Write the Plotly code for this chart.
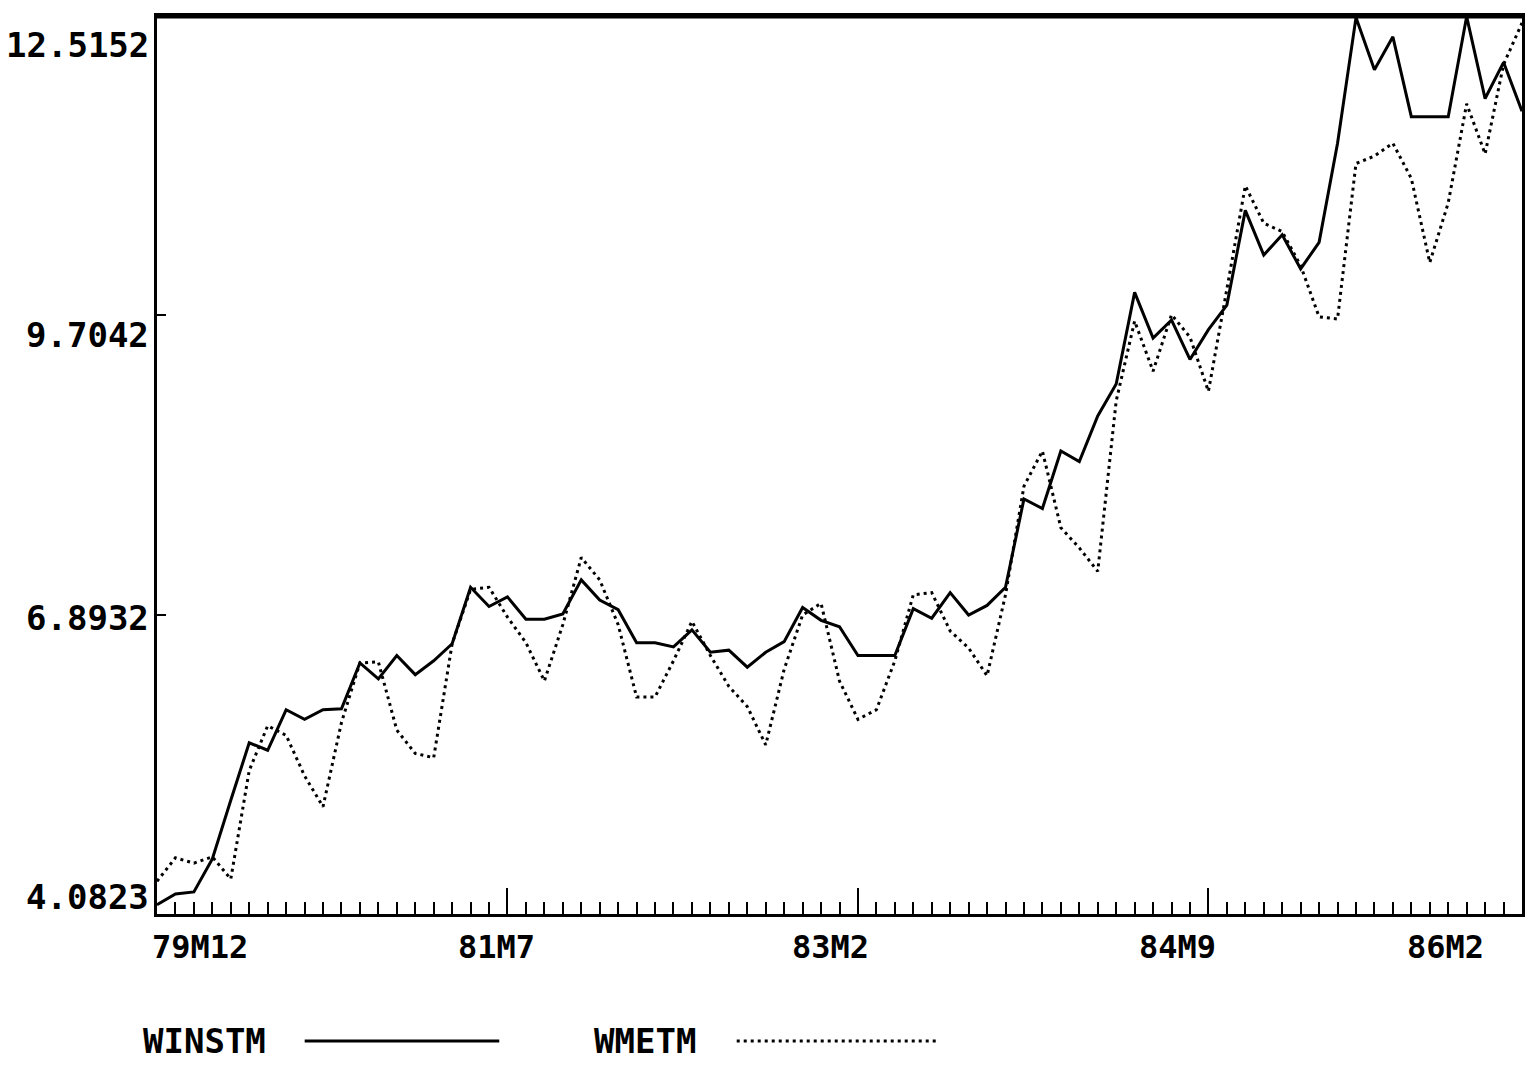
import plotly.graph_objects as go

# ---------------- data ----------------
# monthly observations, 79M12 .. 86M2 (75 months)
months = []
yy, mm = 79, 12
for _ in range(75):
    months.append(f"{yy}M{mm}")
    mm += 1
    if mm > 12:
        mm = 1
        yy += 1
month_index = list(range(len(months)))

winstm = [4.17, 4.27, 4.29, 4.60, 5.15, 5.69, 5.62, 6.00, 5.91, 6.00,
          6.01, 6.44, 6.29, 6.51, 6.33, 6.46, 6.62, 7.15, 6.97, 7.06,
          6.85, 6.85, 6.90, 7.22, 7.03, 6.94, 6.63, 6.63, 6.59, 6.75,
          6.54, 6.56, 6.40, 6.54, 6.64, 6.96, 6.84, 6.78, 6.51, 6.51,
          6.51, 6.95, 6.86, 7.10, 6.89, 6.98, 7.15, 7.98, 7.89, 8.43,
          8.33, 8.76, 9.06, 9.92, 9.49, 9.66, 9.29, 9.57, 9.80, 10.69,
          10.27, 10.46, 10.14, 10.39, 11.32, 12.50, 12.01, 12.32, 11.57, 11.57,
          11.57, 12.51, 11.74, 12.08, 11.62]

wmetm = [4.39, 4.61, 4.56, 4.62, 4.41, 5.43, 5.85, 5.76, 5.38, 5.09,
         5.88, 6.44, 6.45, 5.81, 5.59, 5.55, 6.62, 7.13, 7.15, 6.87,
         6.63, 6.27, 6.80, 7.43, 7.22, 6.80, 6.12, 6.12, 6.46, 6.83,
         6.51, 6.22, 6.03, 5.67, 6.38, 6.89, 7.00, 6.27, 5.91, 6.00,
         6.46, 7.08, 7.10, 6.74, 6.58, 6.32, 7.08, 8.10, 8.43, 7.71,
         7.52, 7.30, 8.90, 9.65, 9.18, 9.71, 9.50, 8.99, 9.95, 10.92,
         10.57, 10.49, 10.17, 9.69, 9.67, 11.13, 11.20, 11.32, 10.99, 10.20,
         10.76, 11.69, 11.22, 12.06, 12.45]

series_names = ["WINSTM", "WMETM"]

x_tick_labels = ["79M12", "81M7", "83M2", "84M9", "86M2"]
y_tick_vals = [4.0823, 6.8932, 9.7042, 12.5152]
y_tick_text = ["4.0823", "6.8932", "9.7042", "12.5152"]

# ---------------- style ----------------
W, H = 1534, 1065
L, R, T, B = 157, 9, 16, 151
FONT = "DejaVu Sans Mono, Liberation Mono, monospace"
XLABEL_FONT = dict(family=FONT, size=32, color="black", weight="bold")
YLABEL_FONT = dict(family=FONT, size=34, color="black", weight="bold")
x_label_shift = [43, -11, -27, -31, -77]
y_label_shift = [17, -3, -20, -29]
SOLID = dict(color="black", width=3)
DOTTED = dict(color="black", width=3, dash="3px,4px")

plot_w = W - L - R
plot_h = H - T - B


def px_to_paper(px, py):
    return (px - L) / plot_w, (H - B - py) / plot_h


fig = go.Figure()
fig.add_trace(go.Scatter(x=month_index, y=winstm, mode="lines", name=series_names[0],
                         line=SOLID, text=months, hovertemplate="%{text}: %{y}<extra>WINSTM</extra>"))
fig.add_trace(go.Scatter(x=month_index, y=wmetm, mode="lines", name=series_names[1],
                         line=DOTTED, text=months, hovertemplate="%{text}: %{y}<extra>WMETM</extra>"))

x_tick_index = [months.index(lbl) for lbl in x_tick_labels]

fig.update_layout(
    width=W, height=H,
    margin=dict(l=L, r=R, t=T, b=B),
    paper_bgcolor="white", plot_bgcolor="white",
    showlegend=False,
    xaxis=dict(range=[0, len(months) - 1], showgrid=False, zeroline=False,
               showline=True, linecolor="black", linewidth=3, mirror=True,
               ticks="inside", tickvals=x_tick_index, ticklen=26, tickwidth=2,
               tickcolor="black", showticklabels=False,
               minor=dict(tickmode="linear", tick0=0, dtick=1, ticks="inside",
                          ticklen=12, tickwidth=2, tickcolor="black", showgrid=False)),
    yaxis=dict(range=[y_tick_vals[0], y_tick_vals[-1]], showgrid=False, zeroline=False,
               showline=True, linecolor="black", linewidth=3, mirror=True,
               ticks="inside", tickvals=y_tick_vals[1:-1], ticklen=9, tickwidth=2,
               tickcolor="black", showticklabels=False),
)

# thicker top frame line
fig.add_shape(type="line", xref="paper", yref="paper", x0=0, x1=1, y0=1, y1=1,
              line=dict(color="black", width=5))

# x tick labels
for idx, lbl, sh in zip(x_tick_index, x_tick_labels, x_label_shift):
    fig.add_annotation(x=idx, xref="x", y=0, yref="paper", text=lbl, showarrow=False,
                       xanchor="center", yanchor="top", xshift=sh, yshift=-12,
                       font=XLABEL_FONT)

# y tick labels
for val, lbl, sh in zip(y_tick_vals, y_tick_text, y_label_shift):
    fig.add_annotation(x=0, xref="paper", y=val, yref="y", text=lbl, showarrow=False,
                       xanchor="right", yanchor="middle", xshift=-6, yshift=sh,
                       font=YLABEL_FONT)

# legend (name then line sample)
legend_items = [(series_names[0], 205, 305, 500, SOLID), (series_names[1], 646, 738, 938, DOTTED)]
ly = 1041
for name, tx, lx0, lx1, style in legend_items:
    xp, yp = px_to_paper(tx, ly)
    fig.add_annotation(x=xp, xref="paper", y=yp, yref="paper", text=name, showarrow=False,
                       xanchor="center", yanchor="middle",
                       font=dict(family=FONT, size=34, color="black", weight="bold"))
    x0, y0 = px_to_paper(lx0, ly)
    x1, _ = px_to_paper(lx1, ly)
    fig.add_shape(type="line", xref="paper", yref="paper", x0=x0, x1=x1, y0=y0, y1=y0,
                  line=style)

fig.write_html("out.html", config={"displayModeBar": False},
               post_script="document.body.style.margin='0';document.body.style.overflow='hidden';")
